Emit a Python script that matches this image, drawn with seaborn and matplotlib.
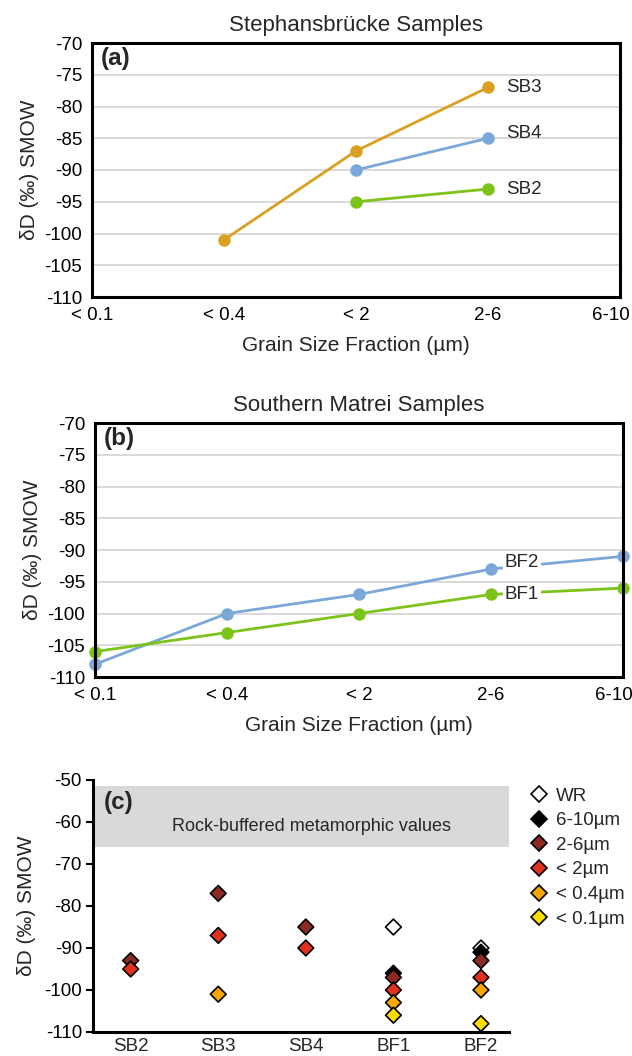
import matplotlib
matplotlib.use("Agg")
import matplotlib.pyplot as plt
import matplotlib.transforms as mtransforms
from matplotlib.lines import Line2D
import seaborn as sns
import pandas as pd
import numpy as np

sns.set_theme(style="white")
plt.rcParams['font.family'] = ['Liberation Sans', 'DejaVu Sans']
plt.rcParams['axes.unicode_minus'] = False

# ---------------- data ----------------
fractions = ["< 0.1", "< 0.4", "< 2", "2-6", "6-10"]

# panel (a) Stephansbrücke
sb3 = [None, -101, -87, -77, None]
sb4 = [None, None, -90, -85, None]
sb2 = [None, None, -95, -93, None]

# panel (b) Southern Matrei
bf2 = [-108, -100, -97, -93, -91]
bf1 = [-106, -103, -100, -97, -96]

# panel (c)
samples_c = ["SB2", "SB3", "SB4", "BF1", "BF2"]
legend_labels = ["WR", "6-10µm", "2-6µm", "< 2µm", "< 0.4µm", "< 0.1µm"]
wr_vals = [None, None, None, -85, -90]
f610_vals = [None, None, None, -96, -91]
f26_vals = [-93, -77, -85, -97, -93]
f2_vals = [-95, -87, -90, -100, -97]
f04_vals = [None, -101, None, -103, -100]
f01_vals = [None, None, None, -106, -108]
band_range = [-66, -51.5]

# ---------------- styles ----------------
c_gold = "#D9A021"
c_blue = "#7BA7D9"
c_green = "#7DC41A"
marker_colors = {"WR": "white", "6-10µm": "black", "2-6µm": "#8B2C24",
                 "< 2µm": "#E0301E", "< 0.4µm": "#F6A800", "< 0.1µm": "#FFDD00"}

W, H = 632, 1056
fig = plt.figure(figsize=(W / 100, H / 100), dpi=100)


def box(l, t, r, b):
    return [l / W, 1 - b / H, (r - l) / W, (b - t) / H]


def long_df(series):
    rows = []
    for name, vals in series.items():
        for i, v in enumerate(vals):
            if v is not None:
                rows.append({"pos": i, "val": v, "sample": name})
    return pd.DataFrame(rows)


def style_line_axes(ax, title, tag):
    ax.set_xlim(0, 4)
    ax.set_ylim(-110, -70)
    ax.set_yticks(np.arange(-110, -69, 5))
    ax.set_xticks(range(len(fractions)))
    ax.set_xticklabels(fractions)
    ax.tick_params(axis='both', length=0, labelsize=13.5, colors='black')
    ax.tick_params(axis='y', pad=7)
    ax.tick_params(axis='x', pad=7)
    ax.grid(axis='y', color='#D9D9D9', linewidth=1.4)
    ax.grid(axis='x', visible=False)
    ax.set_axisbelow(True)
    for s in ax.spines.values():
        s.set_visible(True)
        s.set_color('black')
        s.set_linewidth(2.2)
    ax.set_title(title, fontsize=16, pad=9)
    ax.set_xlabel("Grain Size Fraction (µm)", fontsize=15, labelpad=9)
    ax.set_ylabel("δD (‰) SMOW", fontsize=15, labelpad=4)
    ax.text(0.017, 0.94, tag, transform=ax.transAxes, fontsize=17.5,
            fontweight='bold', va='center', ha='left')
    last = ax.get_xticklabels()[-1]
    last.set_horizontalalignment('right')
    last.set_transform(last.get_transform() + mtransforms.ScaledTranslation(10 / 100, 0, fig.dpi_scale_trans))
    for ln in ax.lines:
        ln.set_clip_on(False)


# ---------------- panel (a) ----------------
axa = fig.add_axes(box(92, 43, 620, 297))
dfa = long_df({"SB3": sb3, "SB4": sb4, "SB2": sb2})
sns.lineplot(data=dfa, x="pos", y="val", hue="sample",
             palette={"SB3": c_gold, "SB4": c_blue, "SB2": c_green},
             marker='o', markersize=9, markeredgewidth=0, linewidth=2,
             legend=False, ax=axa)
style_line_axes(axa, "Stephansbrücke Samples", "(a)")
for name, vals, dy in [("SB3", sb3, 0), ("SB4", sb4, 0.8), ("SB2", sb2, 0)]:
    axa.annotate(name, xy=(3, vals[3] + dy), xytext=(13, 0), textcoords='offset points',
                 fontsize=13.5, va='center', ha='left')

# ---------------- panel (b) ----------------
axb = fig.add_axes(box(95, 423, 623, 677))
dfb = long_df({"BF2": bf2, "BF1": bf1})
sns.lineplot(data=dfb, x="pos", y="val", hue="sample",
             palette={"BF2": c_blue, "BF1": c_green},
             marker='o', markersize=9, markeredgewidth=0, linewidth=2,
             legend=False, ax=axb)
style_line_axes(axb, "Southern Matrei Samples", "(b)")
for name, vals, dy in [("BF2", bf2, 1.0), ("BF1", bf1, 0)]:
    axb.annotate(name, xy=(3, vals[3] + dy), xytext=(10, 0), textcoords='offset points',
                 fontsize=13.5, va='center', ha='left',
                 bbox=dict(facecolor='white', edgecolor='none', pad=1.5), zorder=5)

# ---------------- panel (c) ----------------
axc = fig.add_axes(box(93, 780, 509, 1032))
series_c = {"WR": wr_vals, "6-10µm": f610_vals, "2-6µm": f26_vals,
            "< 2µm": f2_vals, "< 0.4µm": f04_vals, "< 0.1µm": f01_vals}
rows = []
for lab, vals in series_c.items():
    for s, v in zip(samples_c, vals):
        if v is not None:
            rows.append({"sample": s, "val": v, "fraction": lab})
dfc = pd.DataFrame(rows)
draw_order = ["< 0.1µm", "< 0.4µm", "< 2µm", "2-6µm", "6-10µm", "WR"]
axc.axhspan(band_range[0], band_range[1], color='#D9D9D9', zorder=0, linewidth=0)
sns.stripplot(data=dfc, x="sample", y="val", hue="fraction", order=samples_c,
              hue_order=draw_order, palette=marker_colors, jitter=False, dodge=False,
              marker='D', size=8, edgecolor='black', linewidth=1.2, legend=False,
              ax=axc, zorder=3)
axc.set_xlim(-0.43, 4.32)
axc.set_ylim(-110, -50)
axc.set_yticks(np.arange(-110, -49, 10))
axc.tick_params(axis='y', direction='out', length=5, width=1.5, labelsize=13.5, pad=3,
                left=True, colors='black')
axc.tick_params(axis='x', length=0, labelsize=13.5, pad=4)
for side in ['top', 'right']:
    axc.spines[side].set_visible(False)
for side in ['left', 'bottom']:
    axc.spines[side].set_visible(True)
    axc.spines[side].set_color('black')
    axc.spines[side].set_linewidth(2.2)
axc.set_xlabel("")
axc.set_ylabel("δD (‰) SMOW", fontsize=15, labelpad=6)
axc.text(0.526, -61, "Rock-buffered metamorphic values", transform=axc.get_yaxis_transform(),
         fontsize=13, ha='center', va='center')
axc.text(0.026, 0.91, "(c)", transform=axc.transAxes, fontsize=17.5,
         fontweight='bold', va='center', ha='left')
for coll in axc.collections:
    coll.set_clip_on(False)

handles = [Line2D([], [], linestyle='none', marker='D', markersize=8,
                  markerfacecolor=marker_colors[l], markeredgecolor='black',
                  markeredgewidth=1.2) for l in legend_labels]
fig.legend(handles, legend_labels, loc='upper left',
           bbox_to_anchor=(524 / W, 1 - 780 / H), frameon=False, fontsize=13.5,
           handlelength=0.8, handletextpad=0.5, labelspacing=0.4, borderaxespad=0)

fig.savefig("out.png", dpi=100)
